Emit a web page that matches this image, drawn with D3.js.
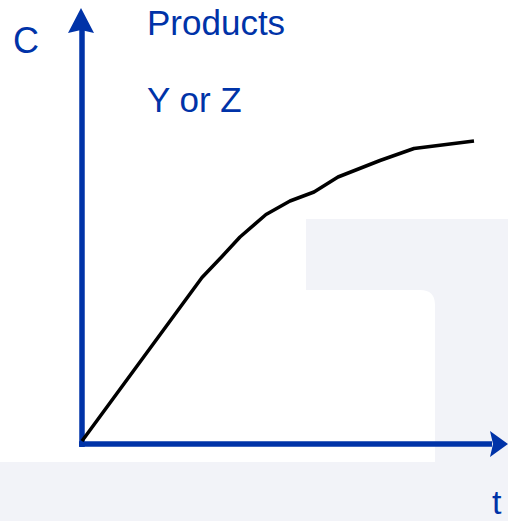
<html>
<head>
<style>
  body { margin: 0; background: #fff; }
  text { font-family: "Liberation Sans", Arial, sans-serif; fill: #0033a8; }
</style>
</head>
<body>
<svg id="chart" width="508" height="521"></svg>
<script src="https://cdn.jsdelivr.net/npm/d3@7"></script>
<script>
// curve (arbitrary units)
let tValues = [0, 30, 35, 39.5, 46, 52, 58, 64, 74.5, 83, 98]
let cValues = [0, 54.5, 61.5, 68, 75.5, 80, 83, 88, 93.5, 97.5, 100]
let labels = { y: "C", x: "t", title1: "Products", title2: "Y or Z" }

let svg = d3.select("#chart")
let blue = "#0033a8"

// faint background shape
svg.append("path")
  .attr("fill", "#f2f3f8")
  .attr("d", "M306,219 H508 V521 H0 V462 H435 V305 Q435,290 420,290 H306 Z")

let x = d3.scaleLinear().domain([0, 100]).range([82, 482])
let y = d3.scaleLinear().domain([0, 100]).range([441, 141])

// axes
svg.append("line")
  .attr("x1", x(0)).attr("x2", x(0))
  .attr("y1", 447).attr("y2", 30)
  .attr("stroke", blue).attr("stroke-width", 5.5)
svg.append("line")
  .attr("x1", 79).attr("x2", 492)
  .attr("y1", 444).attr("y2", 444)
  .attr("stroke", blue).attr("stroke-width", 5.5)

// arrow heads
svg.append("path").attr("fill", blue)
  .attr("d", "M81,8 L94,33 L81,30 L68,33 Z")
svg.append("path").attr("fill", blue)
  .attr("d", "M508,444 L490,431 L493,444 L490,457 Z")

// curve
let pts = tValues.map((t, i) => [t, cValues[i]])
let line = d3.line().x(d => x(d[0])).y(d => y(d[1]))
svg.append("path")
  .datum(pts)
  .attr("d", line)
  .attr("fill", "none")
  .attr("stroke", "black")
  .attr("stroke-width", 3.5)
  .attr("stroke-linejoin", "round")

// labels
svg.append("text").attr("x", 13).attr("y", 53).attr("font-size", 36).text(labels.y)
svg.append("text").attr("x", 147).attr("y", 35).attr("font-size", 35).text(labels.title1)
svg.append("text").attr("x", 147).attr("y", 112).attr("font-size", 35).text(labels.title2)
svg.append("text").attr("x", 492).attr("y", 514).attr("font-size", 34).text(labels.x)
</script>
</body>
</html>
